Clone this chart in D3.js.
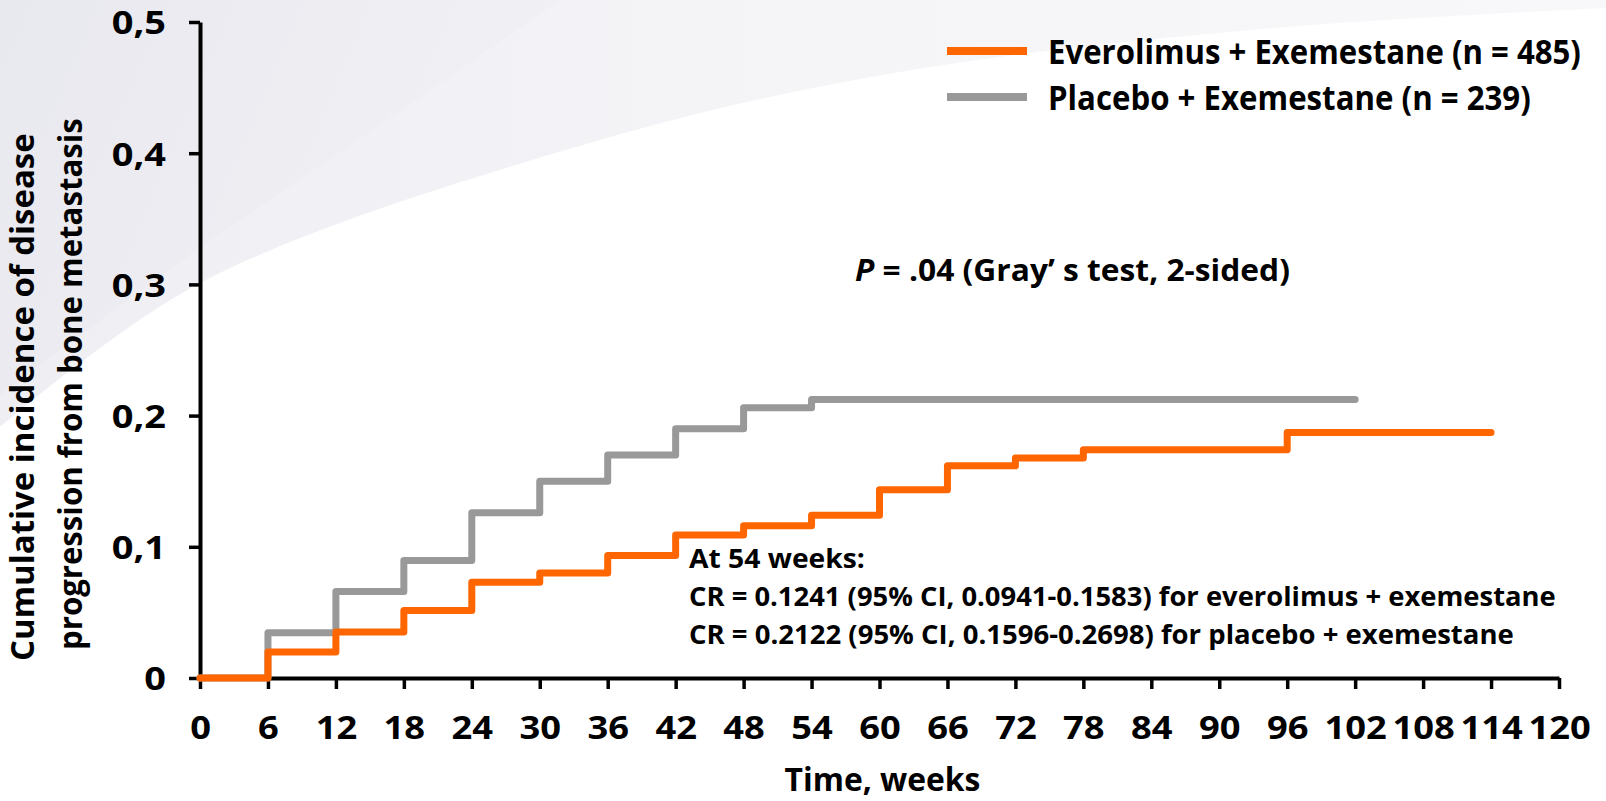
<!DOCTYPE html>
<html>
<head>
<meta charset="utf-8">
<script src="https://cdn.jsdelivr.net/npm/d3@7"></script>
<style>
  html, body { margin: 0; padding: 0; background: #fff; }
  svg { display: block; }
  text { font-family: "Open Sans", "Noto Sans", sans-serif; font-weight: 700; fill: #000; }
</style>
</head>
<body>
<svg id="chart" width="1606" height="801"></svg>
<script>
// ---- data -------------------------------------------------------------
const seriesNames = ["Everolimus + Exemestane (n = 485)", "Placebo + Exemestane (n = 239)"];

// cumulative incidence, step changes at each listed week (last point = end of follow-up)
const everolimusWeeks  = [0, 6, 12, 18, 24, 30, 36, 42, 48, 54, 60, 66, 72, 78, 96, 114];
const everolimusValues = [0, 0.0198, 0.035, 0.0515, 0.073, 0.080, 0.0934, 0.109, 0.116, 0.1241,
                          0.1434, 0.1617, 0.1676, 0.1739, 0.1871, 0.1871];

const placeboWeeks  = [0, 6, 12, 18, 24, 30, 36, 42, 48, 54, 102];
const placeboValues = [0, 0.0345, 0.066, 0.0895, 0.126, 0.150, 0.170, 0.190, 0.206, 0.2122, 0.2122];

const xTickValues = d3.range(0, 121, 6);
const yTickValues = [0, 0.1, 0.2, 0.3, 0.4, 0.5];
const yTickLabels = ["0", "0,1", "0,2", "0,3", "0,4", "0,5"];

const pValueText = { italic: "P", rest: " = .04 (Gray\u2019 s test, 2-sided)" };
const noteLines = [
  "At 54 weeks:",
  "CR = 0.1241 (95% CI, 0.0941-0.1583) for everolimus + exemestane",
  "CR = 0.2122 (95% CI, 0.1596-0.2698) for placebo + exemestane"
];
const yTitleLines = ["Cumulative incidence of disease", "progression from bone metastasis"];
const xTitle = "Time, weeks";

// ---- layout -----------------------------------------------------------
const W = 1606, H = 801;
const plot = { left: 200, right: 1559, top: 22, bottom: 678 };
const colors = { everolimus: "#ff6600", placebo: "#999999" };

const svg = d3.select("#chart");

// scale a text horizontally so it spans the given width
function fitText(sel, x, y, width, anchor) {
  const natural = sel.node().getComputedTextLength();
  const k = width / natural;
  const dx = anchor === "middle" ? -width / 2 : 0;
  sel.attr("x", 0).attr("y", 0)
     .attr("text-anchor", "start")
     .attr("transform", `translate(${x + dx},${y}) scale(${k},1)`);
}

// soft background swoosh
const defs = svg.append("defs");
const g1 = defs.append("linearGradient").attr("id", "swooshOuter").attr("x1", "0").attr("x2", "1").attr("y1", "0").attr("y2", "0");
g1.append("stop").attr("offset", "0").attr("stop-color", "#eeeef3");
g1.append("stop").attr("offset", "0.5").attr("stop-color", "#f5f5f8");
g1.append("stop").attr("offset", "1").attr("stop-color", "#f8f8fa");
const g2 = defs.append("linearGradient").attr("id", "swooshInner").attr("x1", "0").attr("x2", "1").attr("y1", "0").attr("y2", "0.3");
g2.append("stop").attr("offset", "0").attr("stop-color", "#e8e8ef");
g2.append("stop").attr("offset", "1").attr("stop-color", "#f1f1f5");

svg.append("rect").attr("width", W).attr("height", H).attr("fill", "#fff");

const curveLine = d3.line().curve(d3.curveCatmullRom.alpha(0.5));
const outerEdge = [[0, 427], [200, 283], [600, 140], [900, 72], [1250, 30], [1606, 8]];
svg.append("path")
  .attr("d", curveLine(outerEdge) + `L${W},0L0,0Z`)
  .attr("fill", "url(#swooshOuter)");
const innerEdge = [[0, 395], [200, 248], [380, 125], [560, 0]];
svg.append("path")
  .attr("d", curveLine(innerEdge) + "L0,0Z")
  .attr("fill", "url(#swooshInner)");

// ---- scales & axes ----------------------------------------------------
const x = d3.scaleLinear().domain([0, 120]).range([plot.left, plot.right]);
const y = d3.scaleLinear().domain([0, 0.5]).range([plot.bottom, plot.top]);

const xTickSize = 11, xTickPad = 27, yTickSize = 11, yTickPad = 23;
const xAxis = svg.append("g")
  .attr("transform", `translate(0,${plot.bottom})`)
  .call(d3.axisBottom(x).tickValues(xTickValues).tickFormat(d3.format("d"))
        .tickSize(xTickSize).tickSizeOuter(0).tickPadding(xTickPad));
const yAxis = svg.append("g")
  .attr("transform", `translate(${plot.left},0)`)
  .call(d3.axisLeft(y).tickValues(yTickValues).tickFormat((d, i) => yTickLabels[i])
        .tickSize(yTickSize).tickSizeOuter(0).tickPadding(yTickPad));

[xAxis, yAxis].forEach(a => {
  a.select(".domain").attr("stroke", "#000").attr("stroke-width", 4);
  a.selectAll(".tick line").attr("stroke", "#000").attr("stroke-width", 3.5);
  a.selectAll(".tick text").attr("font-size", 33).attr("fill", "#000")
    .style("font-family", "'Open Sans', sans-serif").style("font-weight", 700);
});
// slightly wider figures for the tick labels
xAxis.selectAll(".tick text").attr("transform", "scale(1.1,1)");
yAxis.selectAll(".tick text")
  .attr("x", 0).attr("dy", "0.36em")
  .attr("transform", `translate(${-(yTickSize + yTickPad)},0) scale(1.15,1)`);

// ---- step curves ------------------------------------------------------
const step = d3.line().x(d => x(d[0])).y(d => y(d[1])).curve(d3.curveStepAfter);
const placeboPts = placeboWeeks.map((w, i) => [w, placeboValues[i]]);
const everolimusPts = everolimusWeeks.map((w, i) => [w, everolimusValues[i]]);

svg.append("path").attr("d", step(placeboPts))
  .attr("fill", "none").attr("stroke", colors.placebo).attr("stroke-width", 7)
  .attr("stroke-linecap", "round").attr("stroke-linejoin", "round");
svg.append("path").attr("d", step(everolimusPts))
  .attr("fill", "none").attr("stroke", colors.everolimus).attr("stroke-width", 7)
  .attr("stroke-linecap", "round").attr("stroke-linejoin", "round");

// ---- legend -----------------------------------------------------------
const legend = svg.append("g");
const legendItems = [
  { name: seriesNames[0], color: colors.everolimus, y: 51, width: 533 },
  { name: seriesNames[1], color: colors.placebo, y: 97, width: 483 }
];
legendItems.forEach(it => {
  legend.append("line").attr("x1", 947).attr("x2", 1027).attr("y1", it.y).attr("y2", it.y)
    .attr("stroke", it.color).attr("stroke-width", 8);
  const t = legend.append("text").attr("font-size", 34).text(it.name);
  fitText(t, 1048, it.y + 13, it.width);
});

// ---- annotations ------------------------------------------------------
const pText = svg.append("text").attr("font-size", 30);
pText.append("tspan").attr("font-style", "italic").text(pValueText.italic);
pText.append("tspan").text(pValueText.rest);
fitText(pText, 855, 281, 435);

const noteWidths = [176, 867, 825];
const noteBaselines = [568, 606, 644];
noteLines.forEach((t, i) => {
  const n = svg.append("text").attr("font-size", 27).text(t);
  fitText(n, 689, noteBaselines[i], noteWidths[i]);
});

// ---- axis titles ------------------------------------------------------
const yTitleX = [34, 82];
const yTitleCenter = [397, 384];
const yTitleW = [528, 532];
yTitleLines.forEach((t, i) => {
  const g = svg.append("g")
    .attr("transform", `translate(${yTitleX[i]},${yTitleCenter[i]}) rotate(-90)`);
  const tt = g.append("text").attr("font-size", 33).text(t);
  fitText(tt, 0, 0, yTitleW[i], "middle");
});
const xt = svg.append("text").attr("font-size", 33).text(xTitle);
fitText(xt, (plot.left + plot.right) / 2 + 3, 791, 196, "middle");
</script>
</body>
</html>
